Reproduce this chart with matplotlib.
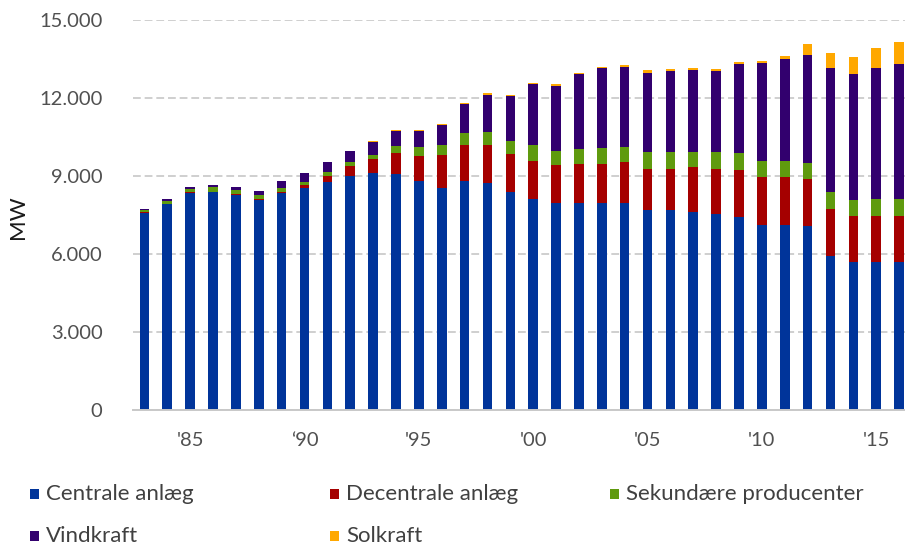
import matplotlib
matplotlib.use('Agg')
import matplotlib.pyplot as plt
from matplotlib.patches import Rectangle

plt.rcParams.update({
    'font.family': ['Lato', 'DejaVu Sans'],
    'font.size': 14.5,
    'text.color': '#404040',
    'figure.facecolor': 'white',
    'axes.facecolor': 'white',
})

# Installeret kapacitet (MW) pr. år, 1983-2016
YEARS = list(range(1983, 2017))

CENTRALE = [7590, 7910, 8360, 8370, 8270, 8090, 8340, 8520, 8780, 9010,
            9130, 9080, 8820, 8530, 8820, 8720, 8370, 8120, 7960, 7970,
            7970, 7970, 7680, 7680, 7630, 7530, 7440, 7130, 7130, 7080,
            5920, 5680, 5680, 5680]
DECENTRALE = [10, 20, 30, 30, 30, 40, 60, 130, 220, 370,
              540, 790, 960, 1260, 1360, 1460, 1460, 1460, 1460, 1490,
              1490, 1550, 1590, 1590, 1710, 1740, 1790, 1850, 1850, 1790,
              1810, 1790, 1790, 1790]
SEKUNDAERE = [100, 110, 120, 160, 170, 140, 140, 130, 140, 150,
              150, 290, 330, 400, 460, 500, 500, 600, 550, 560,
              620, 600, 650, 650, 590, 650, 640, 590, 590, 640,
              640, 600, 640, 640]
VINDKRAFT = [40, 70, 50, 80, 90, 150, 260, 320, 400, 440,
             500, 560, 620, 780, 1130, 1450, 1740, 2350, 2510, 2900,
             3060, 3080, 3060, 3130, 3130, 3130, 3440, 3790, 3940, 4140,
             4770, 4870, 5030, 5190]
SOLKRAFT = [0, 0, 0, 0, 0, 0, 0, 0, 0, 0,
            30, 50, 30, 40, 50, 50, 50, 50, 50, 60,
            70, 80, 80, 80, 80, 80, 80, 80, 90, 420,
            580, 620, 770, 850]

SERIES = [
    ('Centrale anlæg', CENTRALE, '#00349A'),
    ('Decentrale anlæg', DECENTRALE, '#A50000'),
    ('Sekundære producenter', SEKUNDAERE, '#5F9A0E'),
    ('Vindkraft', VINDKRAFT, '#32006E'),
    ('Solkraft', SOLKRAFT, '#FFA800'),
]

XTICKS = [1985, 1990, 1995, 2000, 2005, 2010, 2015]
XTICKLABELS = ["'85", "\u201890", "'95", "'00", "'05", "'10", "'15"]
YTICKS = [0, 3000, 6000, 9000, 12000, 15000]
YTICKLABELS = ['0', '3.000', '6.000', '9.000', '12.000', '15.000']

W, H = 905, 549
fig = plt.figure(figsize=(W / 100, H / 100), dpi=100)
ax = fig.add_axes([133 / W, 1 - 410 / H, (910.5 - 133) / W, 390 / H])

bottom = [0] * len(YEARS)
for name, vals, color in SERIES:
    ax.bar(YEARS, vals, bottom=bottom, width=0.42, color=color,
           linewidth=0, zorder=3)
    bottom = [b + v for b, v in zip(bottom, vals)]

ax.set_xlim(YEARS[0] - 0.5, YEARS[-1] + 0.5)
ax.set_ylim(0, 15000)
ax.set_yticks(YTICKS)
ax.set_yticklabels(YTICKLABELS)
ax.set_xticks(XTICKS)
ax.set_xticklabels(XTICKLABELS)
ax.tick_params(axis='both', length=0, colors='#505050', labelsize=14.5)
ax.tick_params(axis='x', pad=16)
ax.tick_params(axis='y', pad=22)

ax.yaxis.grid(True, color='#CFCFCF', linestyle=(0, (4, 2)), linewidth=1.4,
              zorder=0)
for s in ['top', 'right', 'left']:
    ax.spines[s].set_visible(False)
ax.spines['bottom'].set_color('#C8C8C8')
ax.spines['bottom'].set_linewidth(1.4)
ax.spines['bottom'].set_zorder(4)

# aksetitel placeret i venstre margen
fig.text(18 / W, 1 - 217 / H, 'MW', fontsize=16, color='#1A1A1A',
         rotation=90, ha='center', va='center')

# forklaring i to rækker under grafen
LEGEND_POS = [(30, 494), (330, 494), (610, 494), (30, 536), (330, 536)]
for (name, vals, color), (lx, ly) in zip(SERIES, LEGEND_POS):
    fig.add_artist(Rectangle((lx / W, 1 - (ly + 5) / H), 9 / W, 10 / H,
                             transform=fig.transFigure, color=color,
                             linewidth=0))
    fig.text((lx + 16) / W, 1 - ly / H, name, fontsize=16,
             color='#404040', va='center', ha='left')

fig.savefig('out.png', dpi=100)
